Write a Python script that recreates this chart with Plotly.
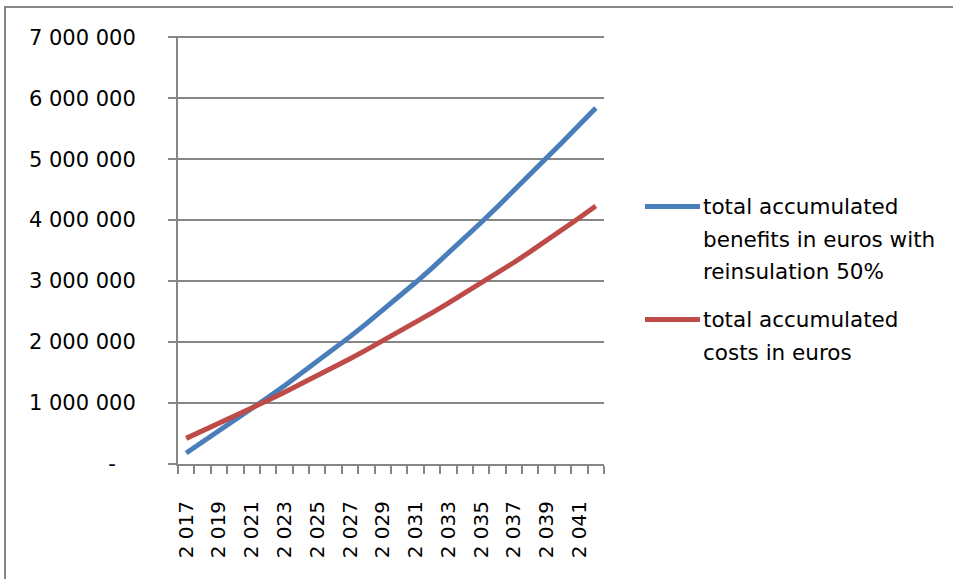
import plotly.graph_objects as go

# ---- data ----
years = list(range(2017, 2043))
benefits = [180000, 358000, 538000, 720000, 905000, 1093000, 1284000, 1479000, 1678000, 1881000,
            2089000, 2302000, 2521000, 2746000, 2977000, 3214000, 3457000, 3706000, 3961000, 4219000,
            4481000, 4747000, 5017000, 5289000, 5563000, 5839000]
costs = [420000, 541000, 664000, 789000, 916000, 1045000, 1176000, 1310000, 1446000, 1585000,
         1727000, 1872000, 2020000, 2171000, 2325000, 2479000, 2637000, 2798000, 2963000, 3132000,
         3305000, 3482000, 3663000, 3848000, 4038000, 4233000]
series_names = ["total accumulated benefits in euros with reinsulation 50%",
                "total accumulated costs in euros"]
legend_lines = [["total accumulated", "benefits in euros with", "reinsulation 50%"],
                ["total accumulated", "costs in euros"]]
x_tick_years = list(range(2017, 2042, 2))
x_tick_text = ["2 " + str(y)[1:] for y in x_tick_years]
y_tick_vals = [0, 1000000, 2000000, 3000000, 4000000, 5000000, 6000000, 7000000]
y_tick_text = ["-\u00a0\u00a0\u00a0", "1 000 000", "2 000 000", "3 000 000", "4 000 000",
               "5 000 000", "6 000 000", "7 000 000"]

BLUE = "#4A7EBB"
RED = "#BE4B48"
GRID = "#868686"
FONT = "DejaVu Sans"

W, H = 953, 579
L, R, T, B = 178, 604, 36, 464
YMAX = 7020000


def px(xp):
    return (xp - L) / (R - L)


def py(yp):
    return (B - yp) / (B - T)


fig = go.Figure()
fig.add_trace(go.Scatter(x=years, y=benefits, mode="lines", name=series_names[0],
                         line=dict(color=BLUE, width=5), showlegend=False))
fig.add_trace(go.Scatter(x=years, y=costs, mode="lines", name=series_names[1],
                         line=dict(color=RED, width=5), showlegend=False))

shapes = []
# outer chart border
shapes.append(dict(type="rect", xref="paper", yref="paper",
                   x0=px(5), x1=px(970), y0=py(600), y1=py(7),
                   line=dict(color=GRID, width=2), fillcolor="rgba(0,0,0,0)", layer="below"))
# legend swatches
shapes.append(dict(type="line", xref="paper", yref="paper",
                   x0=px(645), x1=px(700), y0=py(206.5), y1=py(206.5),
                   line=dict(color=BLUE, width=5)))
shapes.append(dict(type="line", xref="paper", yref="paper",
                   x0=px(645), x1=px(700), y0=py(319.5), y1=py(319.5),
                   line=dict(color=RED, width=5)))

annotations = []
line_y = [[206.5, 239.0, 271.5], [319.5, 352.0]]
for lines, ys in zip(legend_lines, line_y):
    for txt, yc in zip(lines, ys):
        annotations.append(dict(text=txt, xref="paper", yref="paper",
                                x=px(701), y=py(yc), xanchor="left", yanchor="middle",
                                showarrow=False, font=dict(family=FONT, size=21.5, color="#000000")))

fig.update_layout(
    width=W, height=H,
    margin=dict(l=L, r=W - R, t=T, b=H - B, pad=0),
    paper_bgcolor="white", plot_bgcolor="white",
    font=dict(family=FONT, color="#000000"),
    shapes=shapes, annotations=annotations,
    showlegend=False,
)
fig.update_xaxes(
    range=[2016.5, 2042.5], showgrid=False, zeroline=False,
    showline=True, linecolor=GRID, linewidth=2,
    tickmode="array", tickvals=x_tick_years, ticktext=x_tick_text, tickangle=-90,
    ticks="outside", ticklen=8, tickcolor="rgba(0,0,0,0)",
    tickfont=dict(family=FONT, size=20, color="#000000"),
    ticklabelstandoff=19,
    minor=dict(tickmode="array", tickvals=[y - 0.5 for y in years] + [years[-1] + 0.5],
               ticks="outside", ticklen=8, tickcolor=GRID, tickwidth=2, showgrid=False),
)
fig.update_yaxes(
    range=[0, YMAX], showgrid=True, gridcolor=GRID, gridwidth=2, zeroline=False,
    showline=True, linecolor=GRID, linewidth=2,
    tickmode="array", tickvals=y_tick_vals, ticktext=y_tick_text,
    ticks="outside", ticklen=8, tickcolor=GRID, tickwidth=2,
    tickfont=dict(family=FONT, size=21, color="#000000"),
    ticklabelstandoff=28,
)

fig.write_html("out.html", config={"displayModeBar": False},
               post_script="document.body.style.margin='0';")
